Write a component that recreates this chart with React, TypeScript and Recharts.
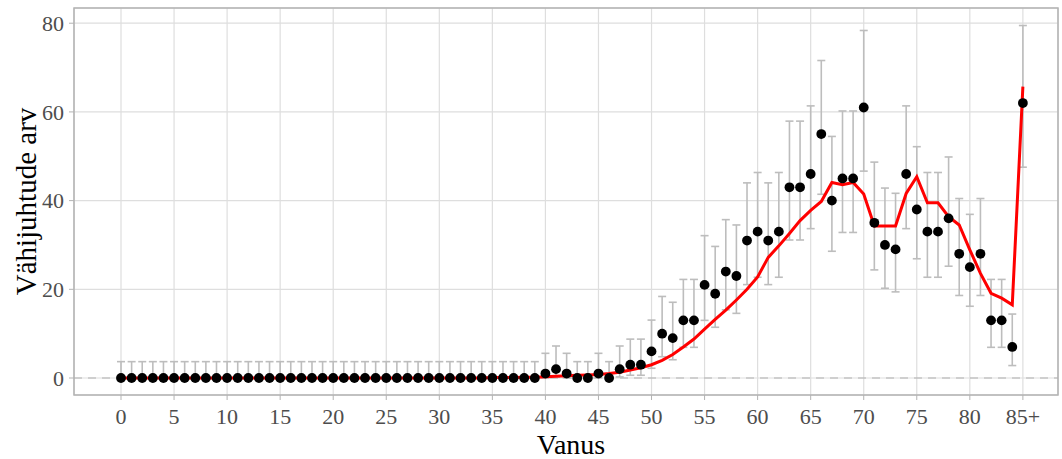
import React from 'react';
import {
  ComposedChart, XAxis, YAxis, CartesianGrid, Line, Scatter, ErrorBar,
  ReferenceLine, ReferenceArea, Label,
} from 'recharts';

// Age categories 0..85 (85 = "85+")
const ages: number[] = [
  0, 1, 2, 3, 4, 5, 6, 7, 8, 9, 10, 11, 12, 13, 14, 15, 16, 17, 18, 19,
  20, 21, 22, 23, 24, 25, 26, 27, 28, 29, 30, 31, 32, 33, 34, 35, 36, 37, 38, 39,
  40, 41, 42, 43, 44, 45, 46, 47, 48, 49, 50, 51, 52, 53, 54, 55, 56, 57, 58, 59,
  60, 61, 62, 63, 64, 65, 66, 67, 68, 69, 70, 71, 72, 73, 74, 75, 76, 77, 78, 79,
  80, 81, 82, 83, 84, 85,
];

// Observed case counts (black points)
const observed: number[] = [
  0, 0, 0, 0, 0, 0, 0, 0, 0, 0, 0, 0, 0, 0, 0, 0, 0, 0, 0, 0,
  0, 0, 0, 0, 0, 0, 0, 0, 0, 0, 0, 0, 0, 0, 0, 0, 0, 0, 0, 0,
  1, 2, 1, 0, 0, 1, 0, 2, 3, 3, 6, 10, 9, 13, 13, 21, 19, 24, 23, 31,
  33, 31, 33, 43, 43, 46, 55, 40, 45, 45, 61, 35, 30, 29, 46, 38, 33, 33, 36, 28,
  25, 28, 13, 13, 7, 62,
];

// Lower bounds of the grey error bars
const lower: number[] = [
  0, 0, 0, 0, 0, 0, 0, 0, 0, 0, 0, 0, 0, 0, 0, 0, 0, 0, 0, 0,
  0, 0, 0, 0, 0, 0, 0, 0, 0, 0, 0, 0, 0, 0, 0, 0, 0, 0, 0, 0,
  0.03, 0.24, 0.03, 0, 0, 0.03, 0, 0.24, 0.62, 0.62, 2.2, 4.8, 4.12, 6.92, 6.92, 13.0, 11.44, 15.38, 14.58, 21.06,
  22.72, 21.06, 22.72, 31.12, 31.12, 33.68, 41.43, 28.58, 32.82, 32.82, 46.65, 24.38, 20.24, 19.42, 33.68, 26.89, 22.72, 22.72, 25.21, 18.61,
  16.18, 18.61, 6.92, 6.92, 2.81, 47.54,
];

// Upper bounds of the grey error bars
const upper: number[] = [
  3.69, 3.69, 3.69, 3.69, 3.69, 3.69, 3.69, 3.69, 3.69, 3.69, 3.69, 3.69, 3.69, 3.69, 3.69, 3.69, 3.69, 3.69, 3.69, 3.69,
  3.69, 3.69, 3.69, 3.69, 3.69, 3.69, 3.69, 3.69, 3.69, 3.69, 3.69, 3.69, 3.69, 3.69, 3.69, 3.69, 3.69, 3.69, 3.69, 3.69,
  5.57, 7.22, 5.57, 3.69, 3.69, 5.57, 3.69, 7.22, 8.77, 8.77, 13.06, 18.39, 17.08, 22.23, 22.23, 32.1, 29.67, 35.71, 34.51, 44.0,
  46.34, 44.0, 46.34, 57.92, 57.92, 61.36, 71.59, 54.47, 60.21, 60.21, 78.36, 48.68, 42.83, 41.65, 61.36, 52.16, 46.34, 46.34, 49.84, 40.47,
  36.9, 40.47, 22.23, 22.23, 14.42, 79.48,
];

// Expected counts (red line)
const expected: number[] = [
  0, 0, 0, 0, 0, 0, 0, 0, 0, 0, 0, 0, 0, 0, 0, 0, 0, 0, 0, 0,
  0, 0, 0, 0, 0, 0, 0, 0, 0, 0, 0, 0, 0, 0, 0, 0.1, 0.1, 0.1, 0.2, 0.2,
  0.3, 0.4, 0.5, 0.6, 0.7, 0.8, 1.0, 1.3, 1.8, 2.3, 3.0, 4.0, 5.3, 7.0, 8.8, 11.0, 13.2, 15.3, 17.6, 20.0,
  22.8, 27.2, 29.8, 32.6, 35.5, 37.8, 39.8, 44.1, 43.6, 44.1, 41.5, 34.3, 34.3, 34.3, 41.6, 45.4, 39.5, 39.5, 36.4, 34.5,
  28.9, 23.6, 19.1, 18.0, 16.5, 65.7,
];

const xTicks: number[] = [0, 5, 10, 15, 20, 25, 30, 35, 40, 45, 50, 55, 60, 65, 70, 75, 80, 85];
const xTickLabels: string[] = ['0', '5', '10', '15', '20', '25', '30', '35', '40', '45', '50', '55', '60', '65', '70', '75', '80', '85+'];
const yTicks: number[] = [0, 20, 40, 60, 80];

const X_DOMAIN: [number, number] = [-4.43, 88.31];
const Y_DOMAIN: [number, number] = [-3.83, 83.43];

const data = ages.map((a, i) => ({
  age: a,
  obs: observed[i],
  exp: expected[i],
  err: [observed[i] - lower[i], upper[i] - observed[i]],
}));

const FONT = '"Liberation Serif", "Times New Roman", serif';

const EmptyShape = () => <g />;

export default function App() {
  return (
    <div style={{ position: 'absolute', left: 0, top: 0, width: 1062, height: 459, background: '#fff' }}>
      <ComposedChart
        width={1062}
        height={459}
        data={data}
        margin={{ top: 8, right: 4, bottom: 0, left: 0 }}
      >
        <CartesianGrid stroke="#dedede" strokeWidth={1.2} />
        <XAxis
          dataKey="age"
          type="number"
          domain={X_DOMAIN}
          ticks={xTicks}
          interval={0}
          allowDataOverflow
          height={64}
          axisLine={false}
          tickLine={{ stroke: '#b3b3b3' }}
          tickSize={5}
          tickMargin={8}
          tick={{ fill: '#4d4d4d', fontSize: 22, fontFamily: FONT }}
          tickFormatter={(v: number) => xTickLabels[xTicks.indexOf(v)] ?? String(v)}
        >
          <Label
            value="Vanus"
            position="insideBottom"
            offset={5}
            dx={5}
            style={{ fill: '#000', fontSize: 28, fontFamily: FONT }}
          />
        </XAxis>
        <YAxis
          type="number"
          domain={Y_DOMAIN}
          ticks={yTicks}
          interval={0}
          allowDataOverflow
          width={74}
          axisLine={false}
          tickLine={{ stroke: '#b3b3b3' }}
          tickSize={5}
          tickMargin={5}
          tick={{ fill: '#4d4d4d', fontSize: 22, fontFamily: FONT }}
        >
          <Label
            value="Vähijuhtude arv"
            angle={-90}
            position="center"
            dx={-11}
            style={{ fill: '#000', fontSize: 29, fontFamily: FONT, textAnchor: 'middle' }}
          />
        </YAxis>
        <ReferenceArea
          x1={X_DOMAIN[0]}
          x2={X_DOMAIN[1]}
          y1={Y_DOMAIN[0]}
          y2={Y_DOMAIN[1]}
          fill="none"
          stroke="#b3b3b3"
          strokeWidth={1.5}
          ifOverflow="visible"
        />
        <ReferenceLine y={0} stroke="#b0b0b0" strokeDasharray="8 6" strokeWidth={1.2} />
        <Scatter dataKey="obs" shape={EmptyShape} isAnimationActive={false}>
          <ErrorBar dataKey="err" direction="y" width={4} stroke="#bdbdbd" strokeWidth={1.6} isAnimationActive={false} />
        </Scatter>
        <Line
          type="linear"
          dataKey="exp"
          stroke="#ff0000"
          strokeWidth={3}
          dot={false}
          activeDot={false}
          isAnimationActive={false}
        />
        <Scatter dataKey="obs" fill="#000" isAnimationActive={false} shape={(p: any) => <circle cx={p.cx} cy={p.cy} r={4.9} fill="#000" />} />
      </ComposedChart>
    </div>
  );
}
